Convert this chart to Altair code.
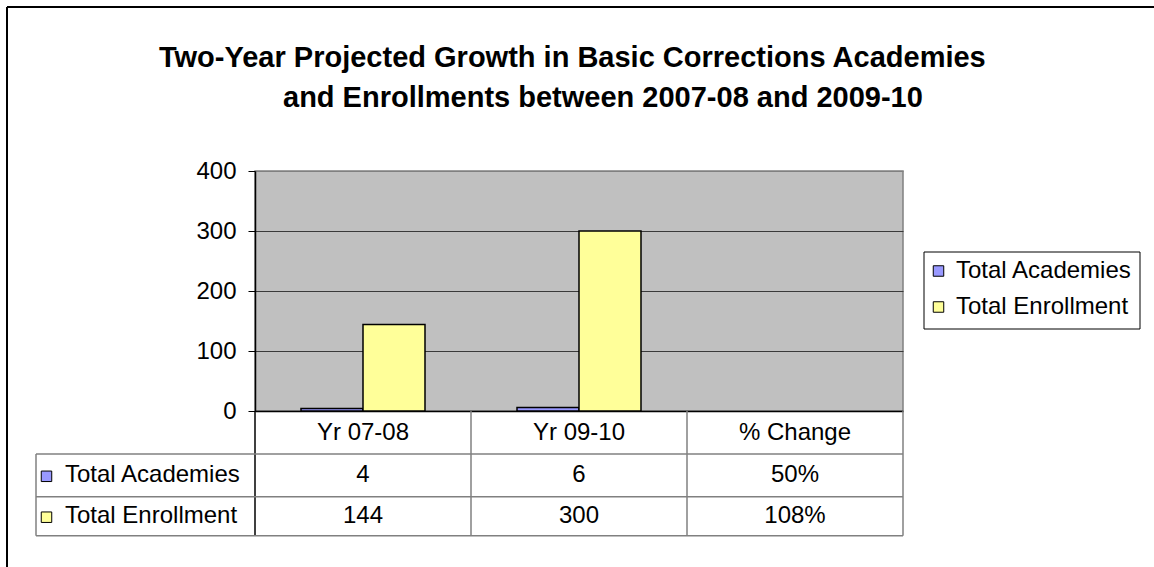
import altair as alt
import pandas as pd

# ---- data ----
categories = ["Yr 07-08", "Yr 09-10", "% Change"]
series = ["Total Academies", "Total Enrollment"]
academies = [4, 6]
enrollment = [144, 300]
pct_change = ["50%", "108%"]
colors = ["#9999FF", "#FFFF99"]
title_lines = ["Two-Year Projected Growth in Basic Corrections Academies",
               "and Enrollments between 2007-08 and 2009-10"]

FONT = "Liberation Sans"
W, H = 648, 240
PL, PT = 255, 171
GRAY = "#808080"

bars = pd.DataFrame({
    "category": categories[:2] * 2,
    "series": [series[0]] * 2 + [series[1]] * 2,
    "value": academies + enrollment,
})

table = pd.DataFrame({
    "category": categories * 2,
    "series": [s for s in series for _ in categories],
    "label": [str(v) for v in academies] + [pct_change[0]]
             + [str(v) for v in enrollment] + [pct_change[1]],
})
rows = pd.DataFrame({"series": series, "hex": colors})
one = pd.DataFrame({"_": [0]})

x_enc = alt.X("category:N", sort=categories,
              scale=alt.Scale(domain=categories, paddingInner=0, paddingOuter=0),
              axis=alt.Axis(title=None, labelAngle=0, labelFontSize=24, labelFont=FONT,
                            labelColor="black", ticks=False, tickSize=0,
                            labelPadding=21, labelBaseline="middle",
                            domainColor="black", domainWidth=1.5, grid=False))

# legend frame (drawn under the legend)
legend_box = alt.Chart(one).mark_rect(fill="white", stroke="black", strokeWidth=1).encode(
    x=alt.value(924 - PL), x2=alt.value(1140 - PL),
    y=alt.value(252 - PT), y2=alt.value(329 - PT))

bar_layer = alt.Chart(bars).mark_bar(stroke="black", strokeWidth=1.5).encode(
    x=x_enc,
    xOffset=alt.XOffset("series:N", sort=series,
                        scale=alt.Scale(domain=series, paddingInner=0, paddingOuter=0.742)),
    y=alt.Y("value:Q", scale=alt.Scale(domain=[0, 400]),
            axis=alt.Axis(title=None, values=[0, 100, 200, 300, 400], labelFontSize=24,
                          labelFont=FONT, labelColor="black", tickSize=7, tickColor="black",
                          labelPadding=12, domainColor="black", domainWidth=1.5,
                          gridColor={"condition": {"test": "datum.value == 400", "value": GRAY},
                                     "value": "#3a3a3a"},
                          gridWidth=1.2)),
    color=alt.Color("series:N", sort=series,
                    scale=alt.Scale(domain=series, range=colors),
                    legend=alt.Legend(title=None, orient="none", legendX=671.5, legendY=88,
                                      symbolType="square", symbolSize=110,
                                      symbolStrokeColor="black", symbolStrokeWidth=1,
                                      labelFontSize=24, labelFont=FONT, labelColor="black",
                                      labelLimit=400,
                                      labelOffset=5.5, padding=0, rowPadding=12)),
)

# table grid: vertical lines at band edges
vlines = alt.Chart(pd.DataFrame({"category": categories[1:]})).mark_rule(
    color=GRAY, strokeWidth=1.5).encode(
    x=alt.X("category:N", sort=categories, bandPosition=0),
    y=alt.value(240), y2=alt.value(364.7))
vright = alt.Chart(pd.DataFrame({"category": categories[-1:]})).mark_rule(
    color=GRAY, strokeWidth=1.5).encode(
    x=alt.X("category:N", sort=categories, bandPosition=1),
    y=alt.value(240), y2=alt.value(364.7))
vleft_black = alt.Chart(one).mark_rule(color="black", strokeWidth=1.5).encode(
    x=alt.value(0), y=alt.value(240), y2=alt.value(364.7))
vleft_table = alt.Chart(one).mark_rule(color=GRAY, strokeWidth=1.5).encode(
    x=alt.value(-219), y=alt.value(283), y2=alt.value(364.7))
hlines = [alt.Chart(one).mark_rule(color=GRAY, strokeWidth=1.5).encode(
    x=alt.value(-219), x2=alt.value(W), y=alt.value(yy)) for yy in (283, 325.7, 364.7)]

# table values
cell_text = []
for s, yy in zip(series, (304.3, 345.2)):
    cell_text.append(
        alt.Chart(table).transform_filter(alt.datum.series == s).mark_text(
            fontSize=24, font=FONT, color="black", baseline="middle").encode(
            x=alt.X("category:N", sort=categories, bandPosition=0.5),
            y=alt.value(yy), text="label:N"))

# row headers with swatches
row_layers = []
for s, yy in zip(series, (304.3, 345.2)):
    base = alt.Chart(rows).transform_filter(alt.datum.series == s)
    row_layers.append(base.mark_square(size=110, stroke="black", strokeWidth=1,
                                       opacity=1, filled=True).encode(
        x=alt.value(-208.5), y=alt.value(yy + 1),
        fill=alt.Fill("hex:N", scale=None)))
    row_layers.append(base.mark_text(fontSize=24, font=FONT, color="black", align="left",
                                     baseline="middle").encode(
        x=alt.value(-190), y=alt.value(yy), text="series:N"))

# title
title_layers = [
    alt.Chart(one).mark_text(text=title_lines[0], fontSize=29, fontWeight="bold", font=FONT,
                             align="left", baseline="alphabetic", color="black").encode(
        x=alt.value(159 - PL), y=alt.value(67 - PT)),
    alt.Chart(one).mark_text(text=title_lines[1], fontSize=29, fontWeight="bold", font=FONT,
                             align="left", baseline="alphabetic", color="black").encode(
        x=alt.value(283 - PL), y=alt.value(107 - PT)),
]

# outer frame
frame = [
    alt.Chart(one).mark_rule(color="black", strokeWidth=2).encode(
        x=alt.value(7 - PL), y=alt.value(7 - PT), y2=alt.value(600 - PT)),
    alt.Chart(one).mark_rule(color="black", strokeWidth=2).encode(
        x=alt.value(7 - PL), x2=alt.value(1200 - PL), y=alt.value(7 - PT)),
]

chart = alt.layer(
    legend_box, bar_layer, vlines, vright, vleft_black, vleft_table, *hlines,
    *cell_text, *row_layers, *title_layers, *frame
).properties(
    width=W, height=H,
    autosize=alt.AutoSizeParams(type="none"),
    padding={"left": PL, "top": PT, "right": 1154 - PL - W, "bottom": 567 - PT - H},
    background="white",
).configure(
    font=FONT,
    view=alt.ViewConfig(stroke=GRAY, fill="#C0C0C0", strokeWidth=1.5),
)

chart.save("out.html", embed_options={"renderer": "svg", "actions": False})
